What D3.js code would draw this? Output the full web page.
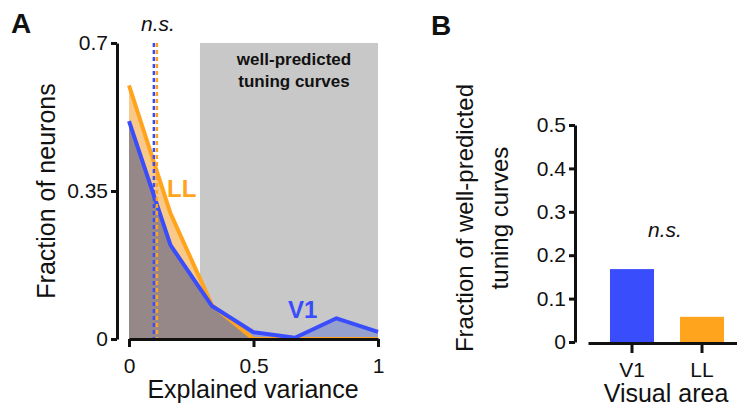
<!DOCTYPE html>
<html>
<head>
<meta charset="utf-8">
<script src="https://cdn.jsdelivr.net/npm/d3@7"></script>
<style>
  body { margin: 0; background: #fff; }
  svg { display: block; font-family: "Liberation Sans", Arial, Helvetica, sans-serif; }
</style>
</head>
<body>
<div id="chart"></div>
<script>
const width = 737;
const height = 408;

// Panel A: distribution of explained variance per area
const evBins = [0, 1 / 6, 2 / 6, 3 / 6, 4 / 6, 5 / 6, 1];
const v1Frac = [0.515, 0.222, 0.078, 0.016, 0.003, 0.049, 0.017];
const llFrac = [0.600, 0.297, 0.080, 0, 0, 0, 0];
const medianAreas = ['V1', 'LL'];
const medianValues = [0.100, 0.112];
const wellPredictedFrom = 0.285;
const yTicksA = [0, 0.35, 0.7];
const xTicksA = [0, 0.5, 1];

// Panel B: fraction of well-predicted tuning curves
const areas = ['V1', 'LL'];
const wellPredicted = [0.168, 0.058];
const yTicksB = [0, 0.1, 0.2, 0.3, 0.4, 0.5];

const blue = '#3a4dfc';
const orange = '#ffa41c';
const ink = '#111';
const areaColor = { V1: blue, LL: orange };

const svg = d3.select('#chart')
  .append('svg')
  .attr('width', width)
  .attr('height', height);

// ---------- Panel A ----------
const xA = d3.scaleLinear().domain([0, 1]).range([129, 378]);
const yA = d3.scaleLinear().domain([0, 0.7]).range([339, 43]);

const gA = svg.append('g');

// grey band for well-predicted curves
gA.append('rect')
  .attr('x', xA(wellPredictedFrom))
  .attr('y', yA(0.7))
  .attr('width', xA(1) - xA(wellPredictedFrom))
  .attr('height', yA(0) - yA(0.7))
  .attr('fill', '#c8c8c8');

gA.append('text')
  .attr('x', 294)
  .attr('y', 65)
  .attr('text-anchor', 'middle')
  .attr('font-weight', 'bold')
  .attr('font-size', 17)
  .attr('fill', ink)
  .text('well-predicted');
gA.append('text')
  .attr('x', 294)
  .attr('y', 87)
  .attr('text-anchor', 'middle')
  .attr('font-weight', 'bold')
  .attr('font-size', 17)
  .attr('fill', ink)
  .text('tuning curves');

const v1Pts = evBins.map((x, i) => [x, v1Frac[i]]);
const llPts = evBins.map((x, i) => [x, llFrac[i]]);
const minPts = evBins.map((x, i) => [x, Math.min(v1Frac[i], llFrac[i])]);

const area = d3.area()
  .x(d => xA(d[0]))
  .y0(yA(0))
  .y1(d => yA(d[1]));
const line = d3.line()
  .x(d => xA(d[0]))
  .y(d => yA(d[1]));

gA.append('path').attr('d', area(v1Pts)).attr('fill', '#3956d6').attr('fill-opacity', 0.35);
gA.append('path').attr('d', area(llPts)).attr('fill', '#f9c98a');
gA.append('path').attr('d', area(minPts)).attr('fill', '#968889');

gA.append('path').attr('d', line(llPts))
  .attr('fill', 'none').attr('stroke', orange).attr('stroke-width', 4).attr('stroke-linejoin', 'round');
gA.append('path').attr('d', line(v1Pts))
  .attr('fill', 'none').attr('stroke', blue).attr('stroke-width', 4).attr('stroke-linejoin', 'round');

// median markers
gA.selectAll('line.median')
  .data(medianAreas)
  .join('line')
  .attr('class', 'median')
  .attr('x1', (d, i) => xA(medianValues[i]))
  .attr('x2', (d, i) => xA(medianValues[i]))
  .attr('y1', yA(0.7))
  .attr('y2', yA(0))
  .attr('stroke', d => areaColor[d])
  .attr('stroke-width', 2.5)
  .attr('stroke-dasharray', '4,3');

gA.append('text')
  .attr('x', 158).attr('y', 31)
  .attr('text-anchor', 'middle')
  .attr('font-style', 'italic')
  .attr('font-size', 21)
  .attr('fill', ink)
  .text('n.s.');

gA.append('text')
  .attr('x', 167).attr('y', 197)
  .attr('font-weight', 'bold').attr('font-size', 24)
  .attr('fill', orange)
  .text('LL');
gA.append('text')
  .attr('x', 288).attr('y', 318)
  .attr('font-weight', 'bold').attr('font-size', 24)
  .attr('fill', blue)
  .text('V1');

// axes
const yAxisA = gA.append('g')
  .attr('transform', 'translate(117,0)')
  .call(d3.axisLeft(yA).tickValues(yTicksA).tickSize(6).tickSizeOuter(0).tickPadding(3)
    .tickFormat(d => d === 0 ? '0' : String(d)));
const xAxisA = gA.append('g')
  .attr('transform', 'translate(0,339)')
  .call(d3.axisBottom(xA).tickValues(xTicksA).tickSize(8).tickSizeOuter(0).tickPadding(11)
    .tickFormat(d => String(d)));

[yAxisA, xAxisA].forEach(ax => {
  ax.attr('font-family', null).attr('font-size', 21);
  ax.selectAll('path, line').attr('stroke', ink).attr('stroke-width', 3);
  ax.selectAll('text').attr('fill', ink);
});

gA.append('text')
  .attr('transform', 'translate(55,191) rotate(-90)')
  .attr('text-anchor', 'middle')
  .attr('font-size', 25)
  .attr('fill', ink)
  .text('Fraction of neurons');
gA.append('text')
  .attr('x', 253).attr('y', 398)
  .attr('text-anchor', 'middle')
  .attr('font-size', 25)
  .attr('fill', ink)
  .text('Explained variance');

svg.append('text')
  .attr('x', 11).attr('y', 33)
  .attr('font-weight', 'bold').attr('font-size', 28)
  .attr('fill', ink)
  .text('A');

// ---------- Panel B ----------
const xB = d3.scaleBand().domain(areas).range([588, 746]).paddingInner(0.371).paddingOuter(0.314);
const yB = d3.scaleLinear().domain([0, 0.5]).range([342, 125]);

const gB = svg.append('g');

gB.selectAll('rect.bar')
  .data(areas)
  .join('rect')
  .attr('class', 'bar')
  .attr('x', d => xB(d))
  .attr('width', xB.bandwidth())
  .attr('y', (d, i) => yB(wellPredicted[i]))
  .attr('height', (d, i) => yB(0) - yB(wellPredicted[i]) + 1)
  .attr('fill', d => areaColor[d]);

const yAxisB = gB.append('g')
  .attr('transform', 'translate(575,0)')
  .call(d3.axisLeft(yB).tickValues(yTicksB).tickSize(6).tickSizeOuter(0).tickPadding(3)
    .tickFormat(d => d === 0 ? '0' : String(d)));
const xAxisB = gB.append('g')
  .attr('transform', 'translate(0,343)')
  .call(d3.axisBottom(xB).tickSize(10).tickSizeOuter(0).tickPadding(9));

[yAxisB, xAxisB].forEach(ax => {
  ax.attr('font-family', null).attr('font-size', 21);
  ax.selectAll('path, line').attr('stroke', ink).attr('stroke-width', 3);
  ax.selectAll('text').attr('fill', ink);
});

gB.append('text')
  .attr('x', 665).attr('y', 237)
  .attr('text-anchor', 'middle')
  .attr('font-style', 'italic')
  .attr('font-size', 21)
  .attr('fill', ink)
  .text('n.s.');

gB.append('text')
  .attr('transform', 'translate(473,218) rotate(-90)')
  .attr('text-anchor', 'middle')
  .attr('font-size', 24)
  .attr('fill', ink)
  .text('Fraction of well-predicted');
gB.append('text')
  .attr('transform', 'translate(508,218) rotate(-90)')
  .attr('text-anchor', 'middle')
  .attr('font-size', 24)
  .attr('fill', ink)
  .text('tuning curves');
gB.append('text')
  .attr('x', 666).attr('y', 402)
  .attr('text-anchor', 'middle')
  .attr('font-size', 25)
  .attr('fill', ink)
  .text('Visual area');

svg.append('text')
  .attr('x', 431).attr('y', 35)
  .attr('font-weight', 'bold').attr('font-size', 28)
  .attr('fill', ink)
  .text('B');
</script>
</body>
</html>
